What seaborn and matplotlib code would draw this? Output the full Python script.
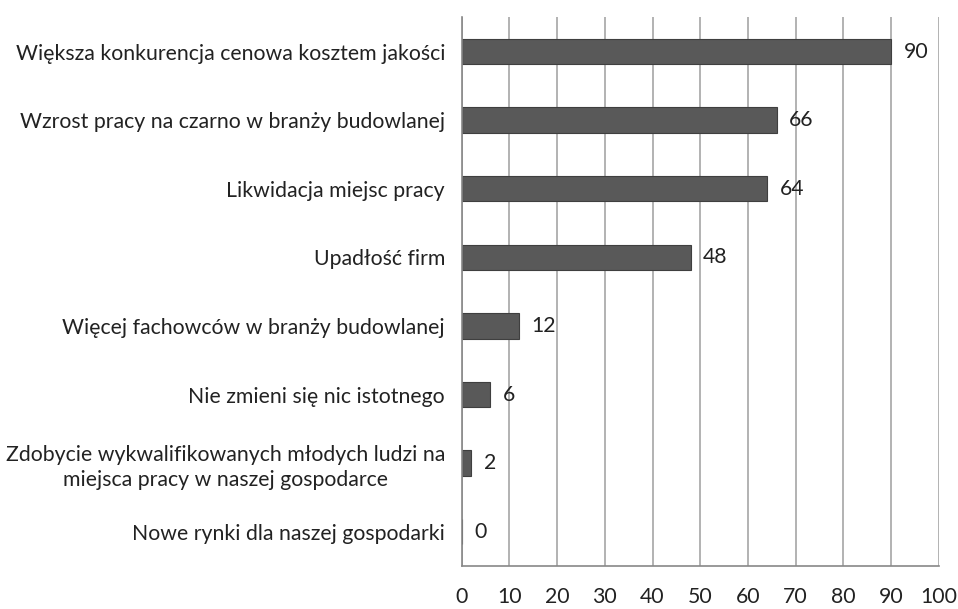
import matplotlib
matplotlib.use('Agg')
import matplotlib.pyplot as plt
import seaborn as sns
import pandas as pd
import numpy as np

# === DATA ===
categories = [
    "Większa konkurencja cenowa kosztem jakości",
    "Wzrost pracy na czarno w branży budowlanej",
    "Likwidacja miejsc pracy",
    "Upadłość firm",
    "Więcej fachowców w branży budowlanej",
    "Nie zmieni się nic istotnego",
    "Zdobycie wykwalifikowanych młodych ludzi na\nmiejsca pracy w naszej gospodarce",
    "Nowe rynki dla naszej gospodarki",
]
values = [90, 66, 64, 48, 12, 6, 2, 0]
x_ticks = [0, 10, 20, 30, 40, 50, 60, 70, 80, 90, 100]

df = pd.DataFrame({"category": categories, "value": values})

# === STYLE ===
sns.set_style("white")
plt.rcParams['font.family'] = ['Lato', 'DejaVu Sans']
FS = 15.3

fig = plt.figure(figsize=(9.58, 6.09), dpi=100)
ax = fig.add_axes([0.482, 0.0706, 0.498, 0.901])

grid_col = '#a6a6a6'
for t in x_ticks:
    ax.axvline(t, color=grid_col, lw=1.2, zorder=0)

sns.barplot(data=df, x="value", y="category", orient="h", color='#595959',
            width=0.37, edgecolor='#3f3f3f', linewidth=0.8, saturation=1,
            ax=ax, zorder=2)

for i, v in enumerate(values):
    ax.annotate(f"{v}", xy=(v, i), xytext=(9, 0), textcoords='offset points',
                ha='left', va='center', fontsize=FS, color='#222222')

ax.set_xlim(0, 100)
ax.set_ylim(len(categories) - 0.5, -0.5)
ax.set_xticks(x_ticks)
ax.set_xlabel("")
ax.set_ylabel("")

# category boundary ticks on the left axis
ax.set_yticks(np.arange(len(categories)))
ax.set_yticks(np.arange(-0.5, len(categories) + 0.5, 1), minor=True)
ax.set_yticklabels(categories, fontsize=FS, color='#222222', multialignment='center',
                   linespacing=1.3)
ax.tick_params(axis='y', which='major', length=0, pad=12)
ax.tick_params(axis='y', which='minor', length=5, color='#888888', direction='out')
ax.tick_params(axis='x', which='major', length=5, color='#888888', direction='out',
               labelsize=FS, labelcolor='#222222', pad=10)

for s in ['top', 'right']:
    ax.spines[s].set_visible(False)
for s in ['left', 'bottom']:
    ax.spines[s].set_color('#888888')
    ax.spines[s].set_linewidth(1.2)

fig.savefig("out.png", dpi=100)
